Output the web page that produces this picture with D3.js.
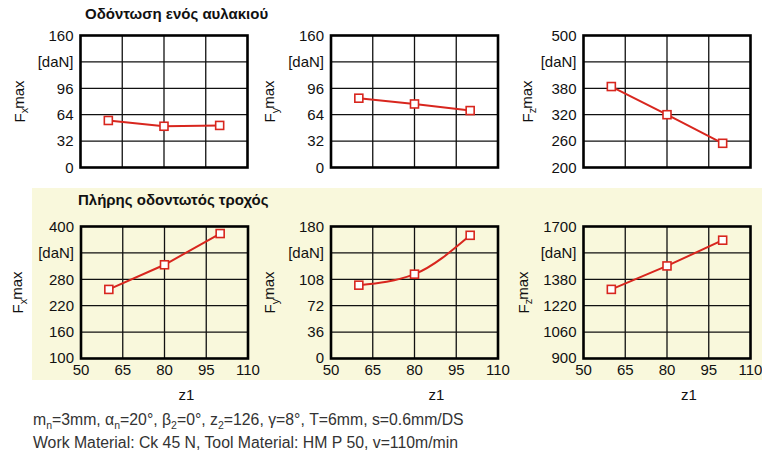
<!DOCTYPE html>
<html><head><meta charset="utf-8">
<script src="https://cdn.jsdelivr.net/npm/d3@7"></script>
<style>body{margin:0;background:#fff}svg{display:block}text{font-family:"Liberation Sans",Arial,sans-serif}</style>
</head><body>
<svg id="c" width="762" height="454"></svg>
<script>
const xTicks = [50, 65, 80, 95, 110];
const topTitle = "Οδόντωση ενός αυλακιού";
const bottomTitle = "Πλήρης οδοντωτός τροχός";

// Top row: single groove
const z1Top = [60, 80, 100];
const fxTop = [57, 50, 51];
const fyTop = [84, 77, 69];
const fzTop = [384, 320, 255];
const fxTopTicks = [0, 32, 64, 96, 128, 160];
const fyTopTicks = [0, 32, 64, 96, 128, 160];
const fzTopTicks = [200, 260, 320, 380, 440, 500];

// Bottom row: full gear
const z1Bot = [60, 80, 100];
const fxBot = [257, 313, 384];
const fyBot = [100, 115, 168];
const fzBot = [1319, 1461, 1617];
const fxBotTicks = [100, 160, 220, 280, 340, 400];
const fyBotTicks = [0, 36, 72, 108, 144, 180];
const fzBotTicks = [900, 1060, 1220, 1380, 1540, 1700];

const unitLabel = "[daN]";
const footer1 = [["m",""],["n","sub"],["=3mm, α",""],["n","sub"],["=20°, β",""],["2","sub"],["=0°, z",""],["2","sub"],["=126, γ=8°, T=6mm, s=0.6mm/DS",""]];
const footer2 = "Work Material: Ck 45 N, Tool Material: HM P 50, v=110m/min";

const svg = d3.select("#c");
const red = "#d8261e";

svg.append("rect").attr("x",32).attr("y",188).attr("width",730).attr("height",192).attr("fill","#f9f8dc");

svg.append("text").attr("x",85).attr("y",19).attr("font-size",15).attr("font-weight","bold").attr("fill","#111").text(topTitle);
svg.append("text").attr("x",78).attr("y",205).attr("font-size",15).attr("font-weight","bold").attr("fill","#111").text(bottomTitle);

const panels = [
 {x:80.5, y:35.5, sub:"x", z:z1Top, v:fxTop, ticks:fxTopTicks, xl:false, curve:false, tx:61, bg:"#fff"},
 {x:331, y:35.5, sub:"y", z:z1Top, v:fyTop, ticks:fyTopTicks, xl:false, curve:false, tx:61, bg:"#fff"},
 {x:583.5, y:35.5, sub:"z", z:z1Top, v:fzTop, ticks:fzTopTicks, xl:false, curve:false, tx:56, bg:"#fff"},
 {x:81, y:226.5, sub:"x", z:z1Bot, v:fxBot, ticks:fxBotTicks, xl:true, curve:false, tx:63, bg:"none"},
 {x:331, y:226.5, sub:"y", z:z1Bot, v:fyBot, ticks:fyBotTicks, xl:true, curve:true, tx:61, bg:"none"},
 {x:583.5, y:226.5, sub:"z", z:z1Bot, v:fzBot, ticks:fzBotTicks, xl:true, curve:false, tx:60, bg:"none"}
];
const W = 167, H = 132;

panels.forEach(p => {
  const g = svg.append("g").attr("transform", `translate(${p.x},${p.y})`);
  const x = d3.scaleLinear().domain([xTicks[0], xTicks[xTicks.length-1]]).range([0, W]);
  const y = d3.scaleLinear().domain([p.ticks[0], p.ticks[p.ticks.length-1]]).range([H, 0]);
  if (p.bg !== "none") g.append("rect").attr("width",W).attr("height",H).attr("fill",p.bg);
  g.selectAll(".vg").data(xTicks.slice(1,-1)).join("line")
    .attr("x1",d=>x(d)).attr("x2",d=>x(d)).attr("y1",0).attr("y2",H).attr("stroke","#111").attr("stroke-width",1.3);
  g.selectAll(".hg").data(p.ticks.slice(1,-1)).join("line")
    .attr("y1",d=>y(d)).attr("y2",d=>y(d)).attr("x1",0).attr("x2",W).attr("stroke","#111").attr("stroke-width",1.3);
  g.append("rect").attr("width",W).attr("height",H).attr("fill","none").attr("stroke","#000").attr("stroke-width",2.6);
  g.selectAll(".yt").data(p.ticks).join("text")
    .attr("x",-7).attr("y",(d,i)=> y(d) - (p.xl && i===0 ? 1 : 0)).attr("dy","0.35em").attr("text-anchor","end")
    .attr("font-size",15).attr("fill","#111")
    .text((d,i)=> i===p.ticks.length-2 ? unitLabel : d);
  if (p.xl) {
    g.selectAll(".xt").data(xTicks).join("text")
      .attr("x",d=>x(d)).attr("y",H+16).attr("text-anchor","middle")
      .attr("font-size",15).attr("fill","#111").text(d=>d);
    g.append("text").attr("x",W/2+22).attr("y",H+41).attr("text-anchor","middle")
      .attr("font-size",15).attr("fill","#111").text("z1");
  }
  const t = g.append("text").attr("transform",`translate(${-p.tx},${H/2}) rotate(-90)`)
    .attr("text-anchor","middle").attr("dy","0.35em").attr("font-size",15).attr("fill","#111");
  t.append("tspan").text("F");
  t.append("tspan").attr("font-size",11).attr("dy","0.3em").text(p.sub);
  t.append("tspan").attr("dy","-0.3em").attr("dx","-1").text("max");
  const pts = p.z.map((z,i)=>[z,p.v[i]]);
  const line = d3.line().x(d=>x(d[0])).y(d=>y(d[1])).curve(p.curve ? d3.curveMonotoneX : d3.curveLinear);
  g.append("path").datum(pts).attr("d",line).attr("fill","none").attr("stroke",red).attr("stroke-width",2);
  g.selectAll(".pt").data(pts).join("rect")
    .attr("x",d=>x(d[0])-4).attr("y",d=>y(d[1])-4).attr("width",8).attr("height",8)
    .attr("fill","#fff").attr("stroke",red).attr("stroke-width",1.6);
});

const f1 = svg.append("text").attr("x",33).attr("y",429).attr("font-size",15.8).attr("fill","#333");
footer1.forEach(([s,k])=>{
  if (k==="sub") f1.append("tspan").attr("font-size",10.5).attr("dy",4).text(s);
  else f1.append("tspan").attr("dy", f1.node().childNodes.length ? -4 : 0).text(s);
});
svg.append("text").attr("x",33).attr("y",448).attr("font-size",15.8).attr("fill","#333").text(footer2);
</script>
</body></html>
